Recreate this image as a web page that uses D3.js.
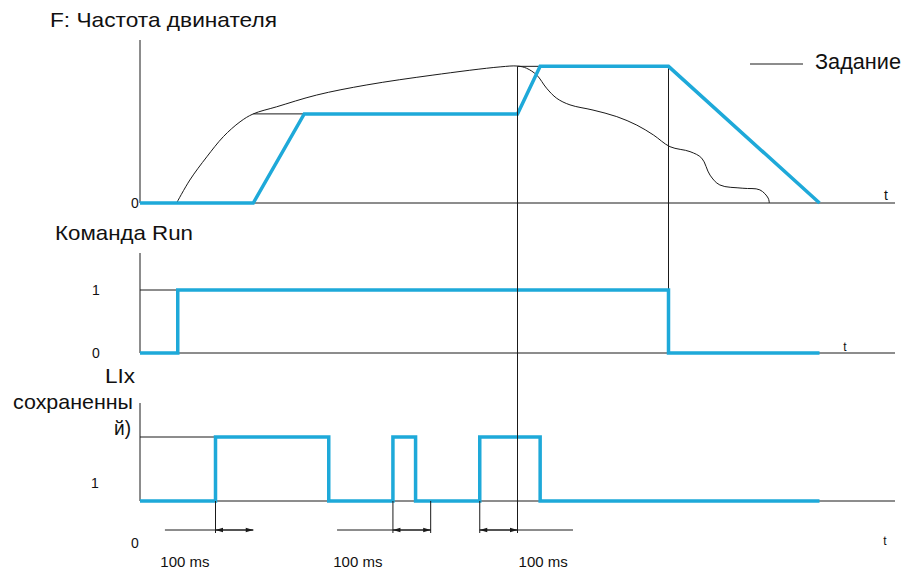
<!DOCTYPE html>
<html>
<head>
<meta charset="utf-8">
<script src="https://cdn.jsdelivr.net/npm/d3@7"></script>
<style>
  html, body { margin: 0; padding: 0; background: #fff; }
  svg { display: block; }
  text { font-family: "Liberation Sans", Arial, sans-serif; fill: #111; }
</style>
</head>
<body>
<svg id="chart" width="909" height="571"></svg>
<script>
// ---------------- DATA ----------------
const timeDomain = [0, 2000];          // ms
const freqDomain = [0, 60];            // Hz

// Reference frequency ("Задание"), thin black curve
const refT = [97, 132, 177, 221, 265, 300, 362, 468, 601, 776, 954, 1000,
              1024, 1051, 1077, 1104, 1139, 1200, 1263, 1316, 1360, 1404, 1457, 1488, 1510, 1536, 1597, 1642, 1664, 1667];
const refF = [0, 8.4, 16.9, 24.3, 29.7, 32.6, 35.2, 39.5, 43.2, 46.8, 49.8, 50.1,
              49.3, 46.8, 42.0, 38.3, 35.9, 34.0, 31.6, 28.5, 24.9, 20.6, 18.8, 16.4, 10.2, 6.6, 5.4, 4.8, 1.8, 0];

// Motor frequency (blue)
const motorT = [0, 300, 435, 1000, 1060, 1400, 1800];
const motorF = [0, 0, 32.6, 32.6, 50, 50, 0];

// Run command (blue)
const runT = [0, 100, 100, 1400, 1400, 1800];
const runV = [0, 0, 1, 1, 0, 0];

// LIx stored (blue)
const liT = [0, 200, 200, 500, 500, 670, 670, 730, 730, 900, 900, 1060, 1060, 1800];
const liV = [0, 0, 1, 1, 0, 0, 1, 1, 0, 0, 1, 1, 0, 0];

// 100 ms delays
const delayStart = [200, 670, 900];
const delayLen = 100;
const leadFrom = [66, 522, 900];
const leadTo = [300, 770, 1147];
const delayTicks = [200, 670, 770, 900];
const delayLabelT = [119, 577, 1068];
const delayLabel = "100 ms";

// Text
const titleF = "F: Частота двинателя";
const legendLabel = "Задание";
const titleRun = "Команда Run";
const titleLI = ["LIx", "сохраненны", "й)"];
const axisT = "t";

// ---------------- DRAW ----------------
const svg = d3.select("#chart");
const blue = "#1ea9d9";
const ink = "#1a1a1a";

const x = d3.scaleLinear().domain(timeDomain).range([140, 895]);
const yF = d3.scaleLinear().domain(freqDomain).range([203, 39]);
const yRun = d3.scaleLinear().domain([0, 1]).range([353, 290]);
const yLI = d3.scaleLinear().domain([0, 1]).range([501, 437]);

const defs = svg.append("defs");
defs.append("marker").attr("id", "arr")
  .attr("viewBox", "0 -4 10 8").attr("refX", 10).attr("refY", 0)
  .attr("markerWidth", 10).attr("markerHeight", 6)
  .attr("markerUnits", "userSpaceOnUse")
  .attr("orient", "auto-start-reverse")
  .append("path").attr("d", "M0,-3L10,0L0,3Z").attr("fill", ink);

function hline(t0, t1, yv, w) {
  svg.append("line").attr("x1", x(t0)).attr("x2", x(t1)).attr("y1", yv).attr("y2", yv)
    .attr("stroke", ink).attr("stroke-width", w || 1);
}
function vline(t, y0, y1) {
  svg.append("line").attr("x1", x(t)).attr("x2", x(t)).attr("y1", y0).attr("y2", y1)
    .attr("stroke", ink).attr("stroke-width", 1);
}
function label(s, xp, yp, size, anchor, len) {
  const t = svg.append("text").attr("x", xp).attr("y", yp).attr("font-size", size)
    .attr("text-anchor", anchor || "start").text(s);
  if (len) t.attr("textLength", len).attr("lengthAdjust", "spacingAndGlyphs");
  return t;
}

// vertical event marker at stop (under the blue lines)
vline(1400, yF(50), yRun(0));

// ---- Panel 1: frequency ----
vline(0, yF(freqDomain[1]) + 1, yF(0));
hline(0, 2000, yF(0));
hline(300, 435, yF(32.6));
hline(1000, 1060, yF(50));

const refLine = d3.line().x(d => x(d[0])).y(d => yF(d[1])).curve(d3.curveCatmullRom.alpha(0.5));
svg.append("path").datum(refT.map((t, i) => [t, refF[i]]))
  .attr("d", refLine).attr("fill", "none").attr("stroke", ink).attr("stroke-width", 1);

const motorLine = d3.line().x(d => x(d[0])).y(d => yF(d[1]));
svg.append("path").datum(motorT.map((t, i) => [t, motorF[i]]))
  .attr("d", motorLine).attr("fill", "none").attr("stroke", blue).attr("stroke-width", 3.5)
  .attr("stroke-linejoin", "miter");

label(titleF, 50, 27, 21, "start", 227);
label("0", 135, yF(0) + 5, 14, "middle");
label(axisT, 886, 200, 14, "middle");
svg.append("line").attr("x1", 750).attr("x2", 803).attr("y1", 64).attr("y2", 64).attr("stroke", ink).attr("stroke-width", 1);
label(legendLabel, 815, 69, 22, "start", 86);

// ---- Panel 2: Run ----
vline(0, 253, yRun(0));
hline(0, 2000, yRun(0));
hline(0, 100, yRun(1));
svg.append("path").datum(runT.map((t, i) => [t, runV[i]]))
  .attr("d", d3.line().x(d => x(d[0])).y(d => yRun(d[1])))
  .attr("fill", "none").attr("stroke", blue).attr("stroke-width", 3.5).attr("stroke-linejoin", "miter");
label(titleRun, 55, 240, 21, "start", 138);
label("1", 96, yRun(1) + 5, 14, "middle");
label("0", 96, yRun(0) + 5, 14, "middle");
label(axisT, 845, 351, 12, "middle");

// ---- Panel 3: LIx ----
vline(0, 403, yLI(0));
hline(0, 2000, yLI(0));
hline(0, 200, yLI(1));
svg.append("path").datum(liT.map((t, i) => [t, liV[i]]))
  .attr("d", d3.line().x(d => x(d[0])).y(d => yLI(d[1])))
  .attr("fill", "none").attr("stroke", blue).attr("stroke-width", 3.5).attr("stroke-linejoin", "miter");
const liBase = [383, 409, 435];
const liRight = [135, 133, 131];
const liLen = [30, 120, 17];
titleLI.forEach((s, i) => label(s, liRight[i], liBase[i], 21, "end", liLen[i]));
label("1", 95, 488, 14, "middle");
label("0", 135, 548, 14, "middle");
label(axisT, 885, 545, 12, "middle");

// delay dimension lines
const arrowY = 530;
delayTicks.forEach(t => vline(t, yLI(0), 533));
leadFrom.forEach((t0, i) => hline(t0, leadTo[i], arrowY));
delayStart.forEach(t0 => {
  svg.append("line").attr("x1", x(t0)).attr("x2", x(t0 + delayLen)).attr("y1", arrowY).attr("y2", arrowY)
    .attr("stroke", ink).attr("stroke-width", 1)
    .attr("marker-start", "url(#arr)").attr("marker-end", "url(#arr)");
});
delayLabelT.forEach(t => label(delayLabel, x(t), 567, 15, "middle"));

// vertical event marker at the 1000 ms instant, crossing panels
vline(1000, yF(50), 533);
</script>
</body>
</html>
